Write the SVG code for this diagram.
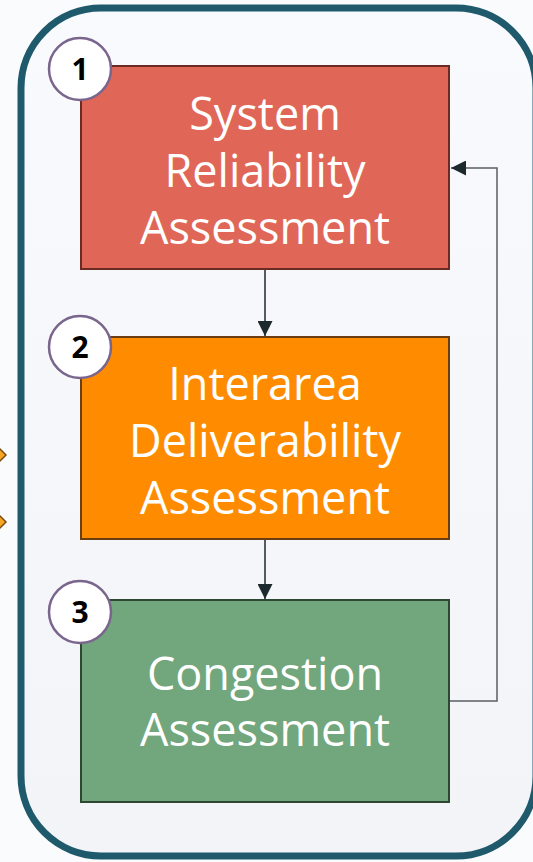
<svg xmlns="http://www.w3.org/2000/svg" width="533" height="862" viewBox="0 0 533 862">
<defs>
<linearGradient id="bg" x1="0" y1="0" x2="0" y2="1">
<stop offset="0" stop-color="#f9fafd"/>
<stop offset="1" stop-color="#f2f4f8"/>
</linearGradient>
<marker id="ah" viewBox="0 0 10 10" refX="10" refY="5" markerWidth="15" markerHeight="15" markerUnits="userSpaceOnUse" orient="auto">
<path d="M0,0 L10,5 L0,10 Z" fill="#1c2a2e"/>
</marker>
<style>
.box{stroke-width:2}
.lbl{font-family:"Open Sans","Noto Sans",sans-serif;font-size:45px;fill:#ffffff;text-anchor:middle}
.num{font-family:"Open Sans","Noto Sans",sans-serif;font-size:30px;font-weight:bold;fill:#000;text-anchor:middle}
.badge{fill:#ffffff;stroke:#7a658c;stroke-width:2.5}
.conn{fill:none;stroke:#1c2a2e;stroke-width:1.5}
.fb{fill:none;stroke:#5a5f63;stroke-width:1.5}
.dia{fill:#f5a623;stroke:#7a4a12;stroke-width:1.5}
</style>
</defs>
<rect x="0" y="0" width="533" height="862" fill="#fafbfd"/>
<g id="side-arrows">
<path class="dia" d="M-6,455 L0,449 L6,455 L0,461 Z"/>
<path class="dia" d="M-6,522 L0,516 L6,522 L0,528 Z"/>
</g>
<g id="container">
<rect x="21" y="8" width="515" height="848" rx="80" ry="80" fill="url(#bg)" stroke="#1e5a6c" stroke-width="7"/>
</g>
<g id="connectors">
<line class="conn" x1="265" y1="269" x2="265" y2="336" marker-end="url(#ah)"/>
<line class="conn" x1="265" y1="539" x2="265" y2="599" marker-end="url(#ah)"/>
<polyline class="fb" points="450,701 497,701 497,168 451,168" marker-end="url(#ah)"/>
</g>
<g id="node1">
<rect class="box" x="81" y="66" width="368" height="203" fill="#e06757" stroke="#6a2b24"/>
<text class="lbl" x="265" y="130">System</text>
<text class="lbl" x="265" y="187">Reliability</text>
<text class="lbl" x="265" y="244">Assessment</text>
</g>
<g id="node2">
<rect class="box" x="81" y="337" width="368" height="202" fill="#ff8c00" stroke="#6b3d12"/>
<text class="lbl" x="265" y="400">Interarea</text>
<text class="lbl" x="265" y="457">Deliverability</text>
<text class="lbl" x="265" y="514">Assessment</text>
</g>
<g id="node3">
<rect class="box" x="81" y="600" width="368" height="202" fill="#72a67c" stroke="#2e4733"/>
<text class="lbl" x="265" y="690">Congestion</text>
<text class="lbl" x="265" y="746">Assessment</text>
</g>
<g id="badge1">
<circle class="badge" cx="80" cy="69" r="31"/>
<text class="num" x="80" y="80">1</text>
</g>
<g id="badge2">
<circle class="badge" cx="80" cy="347" r="31"/>
<text class="num" x="80" y="358">2</text>
</g>
<g id="badge3">
<circle class="badge" cx="80" cy="612" r="31"/>
<text class="num" x="80" y="623">3</text>
</g>
</svg>
